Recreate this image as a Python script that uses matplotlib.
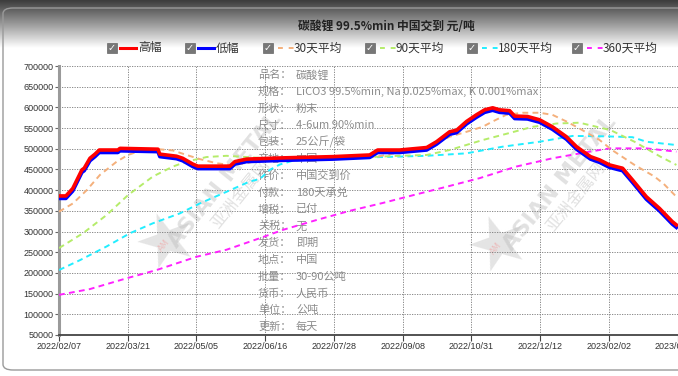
import numpy as np
import matplotlib
matplotlib.use("Agg")
import matplotlib.pyplot as plt
from matplotlib.patches import FancyBboxPatch, Rectangle
from matplotlib.lines import Line2D

plt.rcParams['font.family'] = ['Noto Sans CJK SC', 'DejaVu Sans']

# 类目轴：交易日序号，每30个交易日一个标签
tick_idx = [0, 30, 60, 90, 120, 150, 180, 210, 240, 270]
tick_labels = ['2022/02/07', '2022/03/21', '2022/05/05', '2022/06/16', '2022/07/28',
               '2022/09/08', '2022/10/31', '2022/12/12', '2023/02/02', '2023/03/16']

# 高幅 / 低幅
hi_idx = [0, 3, 6, 10, 11, 13.5, 15.7, 17.6, 25.7, 26.6, 43.2, 44, 51.3, 54, 58.4, 60.6,
          74.6, 76.8, 81.9, 97.7, 119.5, 135.6, 139.1, 148.7, 160.5, 164.8, 170.5, 173.6,
          177.9, 182.2, 185.8, 189.3, 192.3, 196.7, 198.9, 204.5, 209.8, 215.4, 221.5,
          225.9, 232, 236, 240.3, 243.8, 246, 250.3, 256.4, 262.1, 267.7, 269.5]
hi_val = [386000, 386000, 404000, 449000, 453000, 477000, 487000, 497000, 497000, 501000,
          499000, 487000, 482000, 477000, 463000, 458000, 458000, 469000, 475000, 478000,
          481000, 485000, 497000, 497000, 503000, 517000, 541000, 545000, 566000, 582000,
          594000, 599000, 594000, 592000, 579000, 578000, 570000, 553000, 529000, 505000,
          481000, 473000, 461000, 456000, 453000, 425000, 384000, 356000, 324000, 316000]
lo_val = [380000, 380000, 398000, 443000, 447000, 471000, 481000, 491000, 491000, 495000,
          493000, 481000, 476000, 471000, 457000, 452000, 452000, 463000, 469000, 472000,
          475000, 479000, 491000, 491000, 497000, 511000, 535000, 539000, 560000, 576000,
          588000, 593000, 588000, 586000, 573000, 572000, 564000, 547000, 523000, 499000,
          475000, 467000, 455000, 450000, 447000, 419000, 378000, 350000, 318000, 310000]

# 30天平均
ma30_idx = [0, 6.1, 12.1, 17.9, 25.2, 30.1, 35.3, 43.2, 49.7, 55.7, 61.5, 68.8, 74.6, 81.9,
            87.7, 105, 122.5, 138.7, 148.7, 160.5, 170.5, 177.9, 184.9, 189.3, 195.2, 202.4,
            209.8, 215.4, 221.5, 227.2, 236, 241.4, 251.2, 259.9, 264, 269.5]
ma30_val = [348000, 368000, 400000, 437000, 469000, 485000, 495000, 499000, 496000, 485000,
            475000, 465000, 461000, 465000, 473000, 477000, 479000, 481000, 491000, 503000,
            529000, 541000, 553000, 566000, 582000, 587000, 587000, 582000, 566000, 549000,
            521000, 497000, 461000, 433000, 415000, 384000]

# 90天平均
ma90_idx = [0, 10.5, 20.8, 30.1, 41, 49.7, 55.7, 64.4, 73.1, 81.9, 87.7, 105, 126.9, 148.7,
            160.5, 170.5, 184.9, 195.2, 206.7, 217.2, 227.2, 240.8, 251.2, 262.5, 269.5]
ma90_val = [260000, 296000, 340000, 388000, 433000, 457000, 469000, 480000, 483000, 480000,
            478000, 476000, 478000, 483000, 485000, 497000, 521000, 536000, 553000, 561000,
            563000, 545000, 517000, 481000, 461000]

# 180天平均
ma180_idx = [0, 9.2, 20.8, 31, 41, 52.8, 61.5, 73.1, 83.3, 87.7, 92, 96.4, 102, 119.5, 141.3,
             160.5, 177.9, 193.6, 209.8, 224.2, 239, 250.3, 256.4, 269.5]
ma180_val = [207000, 231000, 264000, 296000, 320000, 344000, 368000, 396000, 421000, 427000,
             449000, 462000, 471000, 478000, 480000, 483000, 489000, 505000, 517000, 531000,
             530000, 528000, 517000, 509000]

# 360天平均
ma360_idx = [0, 13.5, 29.5, 42.6, 60, 73.1, 87.7, 97.7, 112.5, 126.9, 141.3, 156.1, 169,
             183.6, 199.6, 215.4, 231.6, 240.3, 256.4, 269.5]
ma360_val = [147000, 161000, 187000, 207000, 239000, 256000, 284000, 304000, 328000, 350000,
             369000, 390000, 408000, 429000, 457000, 477000, 493000, 501000, 501000, 493000]

info_keys = ['品名：', '规格：', '形状：', '尺寸：', '包装：', '产地：', '作价：', '付款：',
             '增税：', '关税：', '发货：', '地点：', '批量：', '货币：', '单位：', '更新：']
info_vals = ['碳酸锂', 'LiCO3 99.5%min, Na 0.025%max, K 0.001%max', '粉末', '4-6um 90%min',
             '25公斤/袋', '中国', '中国交到价', '180天承兑', '已付', '无', '即期', '中国',
             '30-90公吨', '人民币', '公吨', '每天']

W, H = 678, 376
fig = plt.figure(figsize=(W / 100, H / 100), dpi=100)
fig.patch.set_facecolor('white')

# 顶部渐变
grad = fig.add_axes([0, 1 - 48 / H, 1, 48 / H], zorder=0)
g = np.linspace(0, 1, 100).reshape(-1, 1)
grad.imshow(g, aspect='auto', cmap=matplotlib.colors.LinearSegmentedColormap.from_list(
    'hd', ['#3c3c3c', '#9a9a9a', '#ffffff']), extent=[0, 1, 0, 1])
grad.axis('off')

# 外框
fig.add_artist(FancyBboxPatch((3 / W, 6 / H), 1.2, (H - 14) / H,
                              boxstyle='round,pad=0,rounding_size=0.015',
                              transform=fig.transFigure, fill=False,
                              edgecolor='#9a9a9a', lw=1.0, zorder=1))

ax = fig.add_axes([59 / W, 1 - 335 / H, (W - 59) / W, (335 - 66) / H], zorder=2)
ax.set_facecolor('none')

# 信息文本
for i, (k, v) in enumerate(zip(info_keys, info_vals)):
    y = 75 + i * 16.8
    fig.text(258 / W, 1 - y / H, k, fontsize=8, color='#8c8c8c', va='center', zorder=1)
    fig.text(296 / W, 1 - y / H, v, fontsize=8, color='#8c8c8c', va='center', zorder=1)

# 水印
for sx, sy, tx, ty in [(167, 242, 225, 180), (499, 245, 560, 183)]:
    fig.text(sx / W, 1 - sy / H, '★', fontsize=52, color='#c4c4c4', alpha=0.45,
             ha='center', va='center', rotation=20, family='DejaVu Sans', zorder=1)
    fig.text((sx - 3) / W, 1 - (sy + 3) / H, 'AM', fontsize=6, color='#f0a0a0', alpha=0.6,
             ha='center', va='center', rotation=50, family='DejaVu Sans', zorder=1)
    fig.text(tx / W, 1 - ty / H, 'ASIAN METAL', fontsize=16, fontweight='bold',
             color='#bdbdbd', alpha=0.45, ha='center', va='center', rotation=51,
             family='DejaVu Sans', zorder=1)
    fig.text((tx + 16) / W, 1 - (ty + 14) / H, '亚洲金属网', fontsize=12,
             color='#bdbdbd', alpha=0.45, ha='center', va='center', rotation=51, zorder=1)

dash = (0, (3, 2.2))
ax.plot(ma360_idx, ma360_val, color='#ff22ff', lw=1.4, ls=dash, zorder=3)
ax.plot(ma180_idx, ma180_val, color='#22eeff', lw=1.4, ls=dash, zorder=3)
ax.plot(ma90_idx, ma90_val, color='#b5ec6a', lw=1.4, ls=dash, zorder=3)
ax.plot(ma30_idx, ma30_val, color='#f4b07c', lw=1.4, ls=dash, zorder=3)
ax.plot(hi_idx, lo_val, color='#0000ff', lw=2.6, zorder=4)
ax.plot(hi_idx, hi_val, color='#ff0000', lw=2.6, zorder=5)

ax.set_xlim(0, 270.2)
ax.set_ylim(50000, 700000)
ax.set_yticks(np.arange(50000, 700001, 50000))
ax.set_yticklabels([str(v) for v in range(50000, 700001, 50000)],
                   fontsize=6.5, color='#333333', family='Liberation Sans')
ax.set_xticks(tick_idx)
ax.set_xticklabels(tick_labels, fontsize=6.5, color='#333333', family='Liberation Sans')
ax.tick_params(axis='y', length=3, width=0.8, color='#666666', pad=1)
ax.tick_params(axis='x', length=4, width=0.8, color='#444444', pad=1)
ax.grid(True, color='#777777', ls=(0, (1.5, 1.5)), lw=0.6)
for s in ['top', 'right']:
    ax.spines[s].set_visible(False)
ax.spines['left'].set_color('#9a9a9a')
ax.spines['left'].set_linewidth(2.2)
ax.spines['bottom'].set_color('#444444')
ax.spines['bottom'].set_linewidth(1.3)

# 标题
fig.text(386 / W, 1 - 27 / H, '碳酸锂 99.5%min 中国交到 元/吨', fontsize=8.5,
         fontweight='bold', color='#222222', ha='center', va='center')

# 图例
items = [(112, '高幅', '#ff0000', '-'), (190, '低幅', '#0000ff', '-'),
         (268, '30天平均', '#f4b07c', '--'), (370, '90天平均', '#b5ec6a', '--'),
         (472, '180天平均', '#22eeff', '--'), (577, '360天平均', '#ff22ff', '--')]
ly = 1 - 48 / H
for x0, lab, col, ls in items:
    fig.add_artist(Rectangle(((x0 - 5) / W, ly - 5 / H), 10 / W, 10 / H,
                             transform=fig.transFigure, facecolor='#777777',
                             edgecolor='#666666', lw=0.5, zorder=6))
    fig.text(x0 / W, ly, '✓', fontsize=7, color='white', ha='center', va='center',
             family='DejaVu Sans', fontweight='bold', zorder=7)
    if ls == '-':
        fig.add_artist(Line2D([(x0 + 8) / W, (x0 + 24) / W], [ly, ly], color=col, lw=2.2,
                              transform=fig.transFigure, zorder=6))
    else:
        fig.add_artist(Line2D([(x0 + 10) / W, (x0 + 26) / W], [ly, ly], color=col, lw=1.4,
                              ls=(0, (2.5, 3)), transform=fig.transFigure, zorder=6))
    fig.text((x0 + 26) / W, ly, lab, fontsize=8.5, color='#333333', va='center', zorder=6)

fig.savefig('out.png', dpi=100)
